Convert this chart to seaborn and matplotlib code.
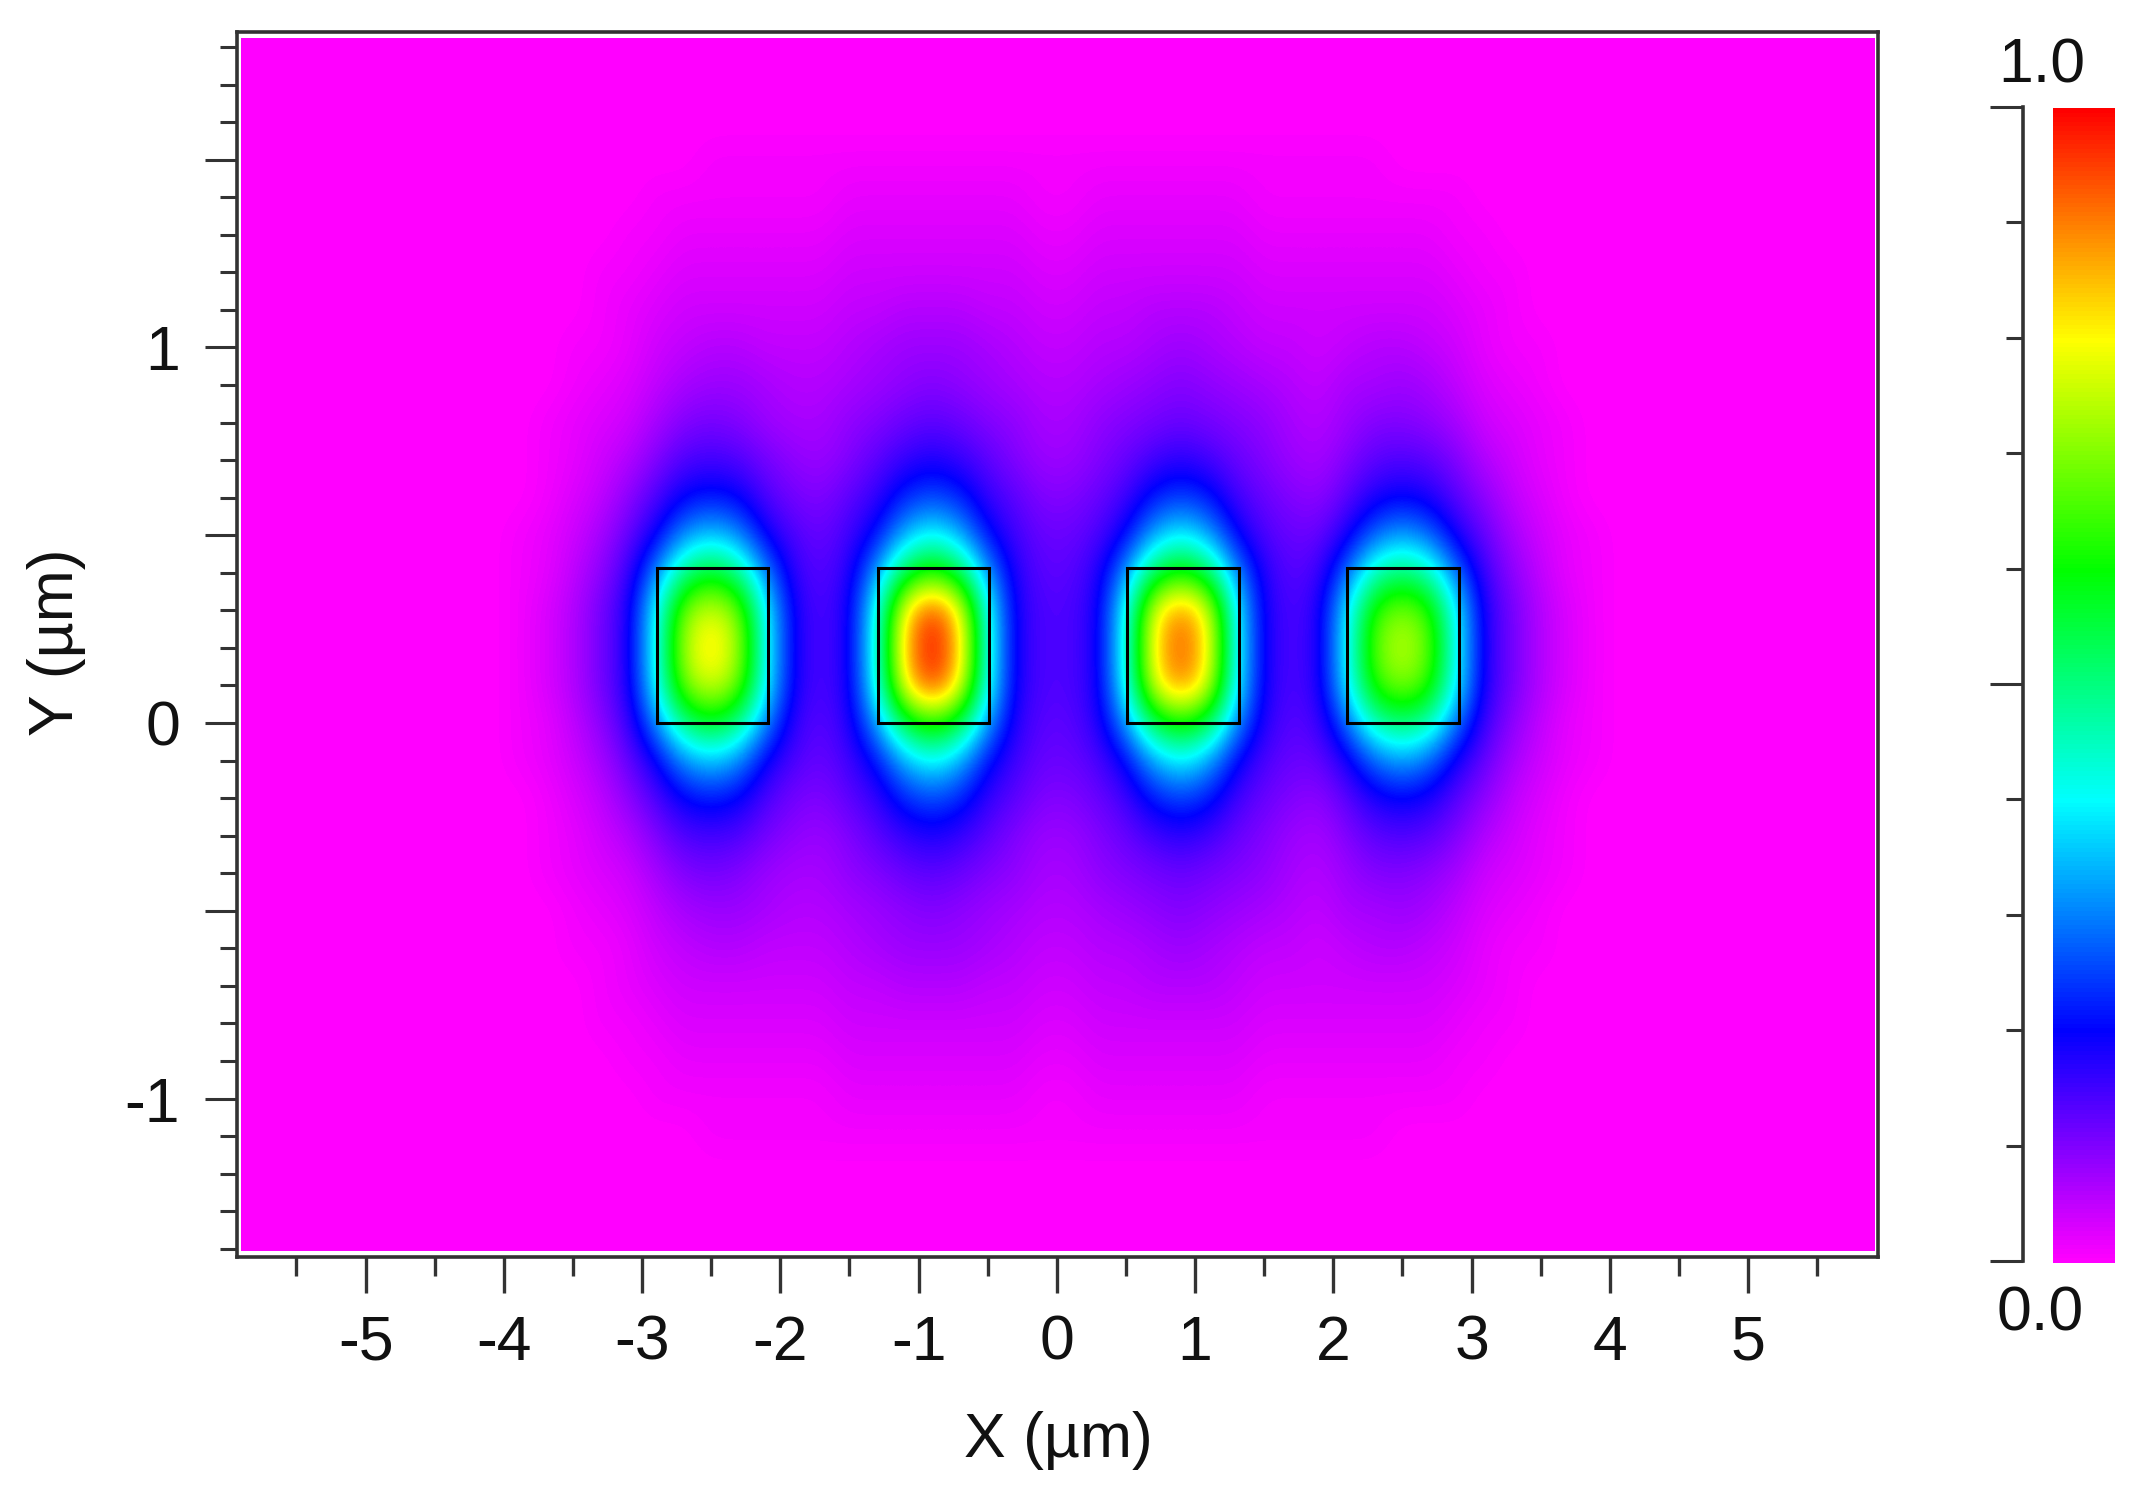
import numpy as np
import pandas as pd
import matplotlib
matplotlib.use("Agg")
import matplotlib.pyplot as plt
from matplotlib.patches import Rectangle
from matplotlib.ticker import FixedLocator
import seaborn as sns

# Field samples in percent. Columns: x = -3.9 ... 3.9 um, step 0.2.
# Each row is a distance |y - 0.2| from the wires' mid-height (the map is mirrored about it).
x_um = [round(-3.9 + 0.2 * i, 1) for i in range(40)]
row_d00 = [1,3,6,11,17,40,74,84,74,40,18,14,18,42,86,100,86,42,18,14,14,18,41,82,94,82,40,18,14,17,39,68,76,68,39,17,11,6,3,1]
row_d01 = [1,3,6,11,17,39,70,78,70,39,18,14,18,41,82,97,82,41,18,14,14,18,40,79,91,79,39,18,14,17,38,64,71,64,38,17,11,6,3,1]
row_d02 = [1,2,5,9,15,30,50,58,50,30,16,13,17,32,55,64,55,32,17,13,13,17,31,54,62,54,31,17,13,15,28,46,52,46,28,15,9,5,2,1]
row_d03 = [1,2,4,7,12,19,31,36,31,19,14,12,15,21,34,41,34,21,15,12,12,14,20,33,40,33,20,14,12,12,18,28,33,28,18,12,7,4,2,1]
row_d04 = [0,1,3,5,9,14,20,22,20,14,11,10,13,16,23,26,23,16,13,10,10,12,15,22,25,22,15,12,10,9,13,18,20,18,13,9,5,3,1,0]
row_d05 = [0,1,2,4,6,10,14,15,14,11,9,8,10,13,16,18,16,13,10,8,8,10,12,15,17,15,12,10,8,7,10,13,14,13,10,6,4,2,1,0]
row_d06 = [0,1,2,3,4,7,10,11,10,8,7,7,9,10,12,13,12,10,9,7,7,9,10,11,12,11,10,9,7,6,8,10,10,9,7,4,3,2,1,0]
row_d07 = [0,0,1,2,3,5,7,8,8,7,6,6,7,8,9,10,9,8,7,6,6,7,8,9,10,9,8,7,6,5,7,7,8,7,5,3,2,1,0,0]
row_d08 = [0,0,1,1,2,4,5,6,6,5,5,5,6,7,8,8,8,7,6,5,5,6,6,7,8,7,6,5,5,4,5,6,6,5,4,2,1,1,0,0]
row_d09 = [0,0,0,1,2,3,4,4,4,4,4,4,5,5,6,6,6,5,5,4,4,5,5,6,6,6,5,4,4,4,4,4,4,4,3,2,1,0,0,0]
row_d10 = [0,0,0,1,1,2,3,3,3,3,3,3,4,4,4,4,4,4,4,3,3,4,4,4,4,4,4,3,3,3,3,3,3,3,2,1,1,0,0,0]
row_d11 = [0,0,0,0,1,1,2,2,2,2,2,2,3,3,3,3,3,3,3,2,2,3,3,3,3,3,3,2,2,2,2,2,2,2,1,1,0,0,0,0]
row_d12 = [0,0,0,0,0,1,1,1,1,1,1,1,2,2,2,2,2,2,2,1,1,2,2,2,2,2,2,1,1,1,1,1,1,1,1,0,0,0,0,0]
row_d13 = [0,0,0,0,0,0,0,1,1,1,1,1,1,1,1,1,1,1,1,1,1,1,1,1,1,1,1,1,1,1,1,1,0,0,0,0,0,0,0,0]
half_rows = [row_d00,row_d01,row_d02,row_d03,row_d04,row_d05,row_d06,row_d07,row_d08,row_d09,row_d10,row_d11,row_d12,row_d13]

wire_left = [-2.89, -1.29, 0.51, 2.10]
wire_right = [-2.09, -0.49, 1.32, 2.91]
wire_bottom = 0.0
wire_top = 0.413

x_tick_major = [-5, -4, -3, -2, -1, 0, 1, 2, 3, 4, 5]
x_tick_labels = ["-5", "-4", "-3", "-2", "-1", "0", "1", "2", "3", "4", "5"]
x_tick_minor = [-5.5, -4.5, -3.5, -2.5, -1.5, -0.5, 0.5, 1.5, 2.5, 3.5, 4.5, 5.5]
y_tick_major = [-1.0, -0.5, 0.0, 0.5, 1.0, 1.5]
y_tick_labels = ["-1", "", "0", "", "1", ""]
y_tick_minor = [-1.4,-1.3,-1.2,-1.1,-0.9,-0.8,-0.7,-0.6,-0.4,-0.3,-0.2,-0.1,0.1,0.2,0.3,0.4,
                0.6,0.7,0.8,0.9,1.1,1.2,1.3,1.4,1.6,1.7,1.8]
scale_major = [0.0, 0.5, 1.0]
scale_minor = [0.1, 0.2, 0.3, 0.4, 0.6, 0.7, 0.8, 0.9]
scale_colors = ["#ff00ff", "#0000ff", "#00ffff", "#00ff00", "#ffff00", "#ff0000"]

W, H = 2142, 1488
DPI = 100
FS = 45
INK = "#333333"

sns.set_theme(style="ticks")
plt.rcParams["font.family"] = ["Liberation Sans", "DejaVu Sans"]
plt.rcParams["axes.unicode_minus"] = False

def box(l, t, r, b):
    return [l / W, 1 - b / H, (r - l) / W, (b - t) / H]

cmap = sns.blend_palette(scale_colors, n_colors=256, as_cmap=True)

# mirrored rows: y = 1.5 ... -1.1, padded with zeros out to the map's edges
core = np.array(half_rows[:0:-1] + half_rows, dtype=float) / 100
pad_side = 10                      # columns -5.9 ... -4.1 and 4.1 ... 5.9
pad_top, pad_bottom = 4, 4         # rows 1.9 ... 1.6 and -1.2 ... -1.5
field = np.pad(core, ((pad_top, pad_bottom), (pad_side, pad_side)))
col_um = np.round(-5.9 + 0.2 * np.arange(field.shape[1]), 1)
row_um = np.round(1.9 - 0.1 * np.arange(field.shape[0]), 1)
field_df = pd.DataFrame(field, index=row_um, columns=col_um)

fig = plt.figure(figsize=(W / DPI, H / DPI), dpi=DPI, facecolor="white")

# field: seaborn lays out the cells, the image on top smooths them at render time
ax_field = fig.add_axes(box(241, 38, 1875, 1251))
sns.heatmap(field_df, ax=ax_field, cmap=cmap, vmin=0, vmax=1, cbar=False,
            xticklabels=False, yticklabels=False)
ax_field.imshow(field, cmap=cmap, vmin=0, vmax=1, aspect="auto",
                extent=(0, field.shape[1], field.shape[0], 0),
                interpolation="bicubic", interpolation_stage="data", zorder=3)
ax_field.set_xlim((-5.90 + 6) / 0.2, (5.92 + 6) / 0.2)
ax_field.set_ylim((1.95 + 1.406) / 0.1, (1.95 - 1.824) / 0.1)
ax_field.set_xlabel("")
ax_field.set_ylabel("")
ax_field.axis("off")

# frame with the ticks, in micrometres
ax = fig.add_axes(box(237, 32, 1878, 1257), facecolor="none")
ax.set_xlim(-5.93, 5.94)
ax.set_ylim(-1.422, 1.840)
ax.xaxis.set_major_locator(FixedLocator(x_tick_major))
ax.xaxis.set_minor_locator(FixedLocator(x_tick_minor))
ax.yaxis.set_major_locator(FixedLocator(y_tick_major))
ax.yaxis.set_minor_locator(FixedLocator(y_tick_minor))
ax.set_xticklabels(x_tick_labels)
ax.set_yticklabels(y_tick_labels)
ax.tick_params(axis="x", which="major", direction="out", length=26, width=2.4, color=INK,
               labelsize=FS, pad=15, labelcolor="#111111")
ax.tick_params(axis="x", which="minor", direction="out", length=13.5, width=2.4, color=INK)
ax.tick_params(axis="y", which="major", direction="out", length=23, width=2.2, color=INK,
               labelsize=FS, pad=18, labelcolor="#111111")
ax.tick_params(axis="y", which="minor", direction="out", length=12, width=2.2, color=INK)
for s in ax.spines.values():
    s.set_linewidth(2.6)
    s.set_color(INK)
    s.set_visible(True)
for l, r in zip(wire_left, wire_right):
    ax.add_patch(Rectangle((l, wire_bottom), r - l, wire_top - wire_bottom,
                           fill=False, edgecolor="black", linewidth=2.2))
fig.text(1058 / W, 1 - 1440 / H, "X (\u00b5m)", ha="center", va="center", fontsize=FS, color="#111111")
fig.text(57 / W, 1 - 642 / H, "Y (\u00b5m)", ha="center", va="center", rotation=90, fontsize=FS, color="#111111")

# colour scale strip
levels = np.linspace(1, 0, 256).reshape(-1, 1)
ax_strip = fig.add_axes(box(2053, 108, 2115, 1263))
sns.heatmap(levels, ax=ax_strip, cmap=cmap, vmin=0, vmax=1, cbar=False,
            xticklabels=False, yticklabels=False)
ax_strip.set_xlabel("")
ax_strip.set_ylabel("")

# colour scale axis
ax_scale = fig.add_axes(box(1990, 107, 2023, 1261), facecolor="none")
ax_scale.set_ylim(0, 1)
ax_scale.set_xticks([])
ax_scale.yaxis.tick_right()
ax_scale.yaxis.set_major_locator(FixedLocator(scale_major))
ax_scale.yaxis.set_minor_locator(FixedLocator(scale_minor))
ax_scale.set_yticklabels(["", "", ""])
ax_scale.tick_params(axis="y", which="major", direction="in", length=24, width=2.2, color=INK)
ax_scale.tick_params(axis="y", which="minor", direction="in", length=12, width=2.2, color=INK)
for name, s in ax_scale.spines.items():
    s.set_visible(name == "right")
    s.set_linewidth(2.6)
    s.set_color(INK)
fig.text(2042 / W, 1 - 66 / H, "1.0", ha="center", va="center", fontsize=FS, color="#111111")
fig.text(2040 / W, 1 - 1314 / H, "0.0", ha="center", va="center", fontsize=FS, color="#111111")

fig.savefig("out.png", dpi=DPI, facecolor="white")
